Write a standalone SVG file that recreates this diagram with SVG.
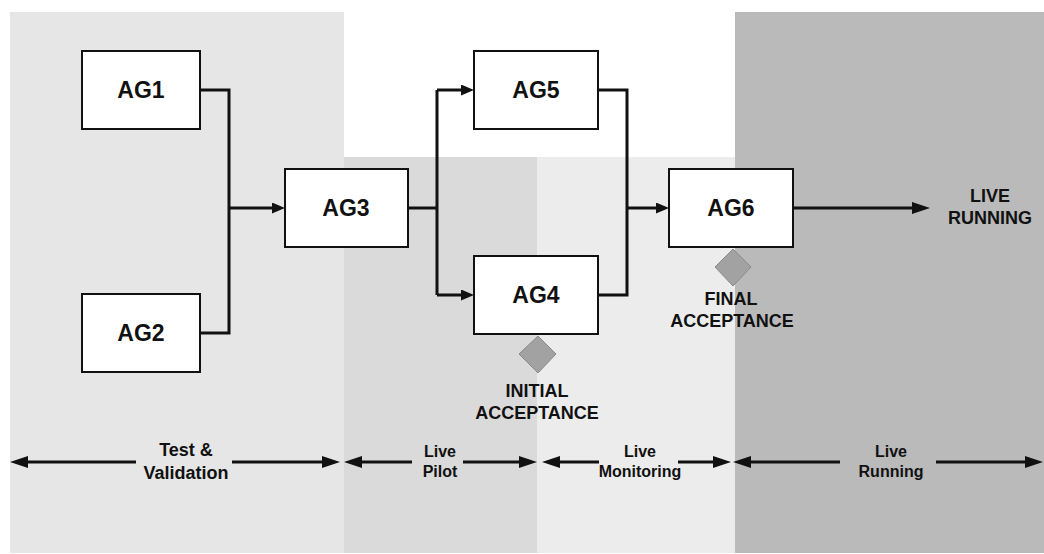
<svg xmlns="http://www.w3.org/2000/svg" width="1044" height="554" viewBox="0 0 1044 554">
<style>
.box{fill:#fff;stroke:#111;stroke-width:2}
.lbl{font-family:"Liberation Sans",Arial,sans-serif;font-weight:bold;fill:#111;text-anchor:middle}
.ag{font-size:23px}
.big{font-size:18px}
.sm{font-size:16px}
.conn{fill:none;stroke:#111;stroke-width:3}
.dia{fill:#a2a2a2;stroke:#8a8a8a;stroke-width:1}
</style>
<defs>
<marker id="ah" markerUnits="userSpaceOnUse" viewBox="0 0 13 11" markerWidth="13" markerHeight="11" refX="4" refY="5.5" orient="auto"><path d="M0,0 L13,5.5 L0,11 z" fill="#111"/></marker>
<marker id="ahL" markerUnits="userSpaceOnUse" viewBox="0 0 18 12" markerWidth="18" markerHeight="12" refX="5" refY="6" orient="auto"><path d="M0,0 L18,6 L0,12 z" fill="#111"/></marker>
</defs>
<rect width="1044" height="554" fill="#fff"/>
<g id="phases">
<rect x="10" y="12" width="334" height="541" fill="#e6e6e6"/>
<rect x="344" y="157" width="193" height="396" fill="#dadada"/>
<rect x="537" y="157" width="198" height="396" fill="#ececec"/>
<rect x="735" y="12" width="309" height="541" fill="#bababa"/>
</g>
<g id="connectors">
<path class="conn" d="M200,90 H229 V333 H200"/>
<path class="conn" d="M229,208 H276" marker-end="url(#ah)"/>
<path class="conn" d="M408,208 H437"/>
<path class="conn" d="M437,90 V295"/>
<path class="conn" d="M437,90 H465" marker-end="url(#ah)"/>
<path class="conn" d="M437,295 H465" marker-end="url(#ah)"/>
<path class="conn" d="M598,90 H627 V295 H598"/>
<path class="conn" d="M627,208 H660" marker-end="url(#ah)"/>
<path class="conn" d="M793,208 H917" marker-end="url(#ahL)"/>
</g>
<g id="phase-arrows">
<path class="conn" d="M136,462 H23" marker-end="url(#ahL)"/>
<path class="conn" d="M232,462 H327" marker-end="url(#ahL)"/>
<path class="conn" d="M412,462 H357" marker-end="url(#ahL)"/>
<path class="conn" d="M463,462 H524" marker-end="url(#ahL)"/>
<path class="conn" d="M599,462 H555" marker-end="url(#ahL)"/>
<path class="conn" d="M678,462 H718" marker-end="url(#ahL)"/>
<path class="conn" d="M840,462 H746" marker-end="url(#ahL)"/>
<path class="conn" d="M936,462 H1030" marker-end="url(#ahL)"/>
</g>
<g id="AG1"><rect class="box" x="82" y="51" width="118" height="78"/><text class="lbl ag" x="141" y="98">AG1</text></g>
<g id="AG2"><rect class="box" x="82" y="294" width="118" height="78"/><text class="lbl ag" x="141" y="341">AG2</text></g>
<g id="AG3"><rect class="box" x="285" y="169" width="123" height="78"/><text class="lbl ag" x="346" y="216">AG3</text></g>
<g id="AG4"><rect class="box" x="474" y="256" width="124" height="78"/><text class="lbl ag" x="536" y="303">AG4</text></g>
<g id="AG5"><rect class="box" x="474" y="51" width="124" height="78"/><text class="lbl ag" x="536" y="98">AG5</text></g>
<g id="AG6"><rect class="box" x="669" y="169" width="124" height="78"/><text class="lbl ag" x="731" y="216">AG6</text></g>
<g id="live-running-label"><text class="lbl big" x="990" y="202">LIVE</text><text class="lbl big" x="990" y="224">RUNNING</text></g>
<g id="initial-acceptance">
<polygon class="dia" points="538,336 556,354 538,373 519,354"/>
<text class="lbl big" x="537" y="397">INITIAL</text><text class="lbl big" x="537" y="419">ACCEPTANCE</text>
</g>
<g id="final-acceptance">
<polygon class="dia" points="733,249 751,267 733,286 715,267"/>
<text class="lbl big" x="731" y="305">FINAL</text><text class="lbl big" x="732" y="327">ACCEPTANCE</text>
</g>
<g id="phase-labels">
<text class="lbl big" x="186" y="456">Test &amp;</text><text class="lbl big" x="186" y="479">Validation</text>
<text class="lbl sm" x="440" y="457">Live</text><text class="lbl sm" x="440" y="477">Pilot</text>
<text class="lbl sm" x="640" y="457">Live</text><text class="lbl sm" x="640" y="477">Monitoring</text>
<text class="lbl sm" x="891" y="457">Live</text><text class="lbl sm" x="891" y="477">Running</text>
</g>
</svg>
